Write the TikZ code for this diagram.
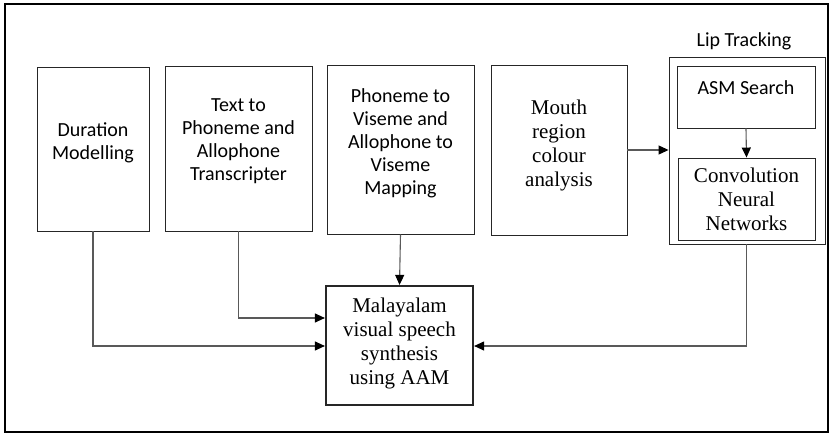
\documentclass[tikz,border=0pt]{standalone}
\usepackage{fontspec}
\setmainfont{Liberation Serif}
\newfontfamily\calib{Carlito}
\usetikzlibrary{arrows.meta}
\begin{document}
\begin{tikzpicture}[x=1pt,y=-1pt,
  box/.style={draw=black!85,line width=0.9pt,align=center,inner sep=0pt},
  sbox/.style={box,font=\calib\fontsize{20}{23}\selectfont},
  rbox/.style={box,font=\fontsize{21}{24}\selectfont},
  conn/.style={draw=black!65,line width=1.1pt,-{Triangle[length=10pt,width=9pt,color=black]}}]
\useasboundingbox (0,0) rectangle (831,436);
\draw[line width=2.2pt] (5,4) rectangle (828,432);
\node[sbox,minimum width=112pt,minimum height=164pt] (dur) at (93,149) {Duration\\Modelling\\[-8pt]};
\node[sbox,minimum width=147pt,minimum height=165pt] (txt) at (238.5,148.5) {Text to\\Phoneme and\\Allophone\\Transcripter\\[-6pt]};
\node[sbox,minimum width=147pt,minimum height=169pt] (pho) at (400.5,149.5) {Phoneme to\\Viseme and\\Allophone to\\Viseme\\Mapping\\[-7pt]};
\node[rbox,minimum width=136pt,minimum height=170pt] (mou) at (559,150) {Mouth\\region\\colour\\analysis\\[-11pt]};
\node[box,minimum width=156pt,minimum height=187pt] (lip) at (747,150.5) {};
\node[font=\calib\fontsize{20}{23}\selectfont,anchor=base] (liplab) at (744,47) {Lip Tracking};
\node[sbox,minimum width=138pt,minimum height=62pt] (asm) at (746,97) {ASM Search\\[-5pt]};
\node[rbox,minimum width=137pt,minimum height=82pt] (cnn) at (746.5,199) {Convolution\\Neural\\Networks};
\node[box,line width=2.2pt,minimum width=147pt,minimum height=119pt,font=\fontsize{21}{24}\selectfont] (main) at (399.5,345.5) {Malayalam\\visual speech\\synthesis\\using AAM\\[-15pt]};
\draw[conn] (pho.south) -- (main.north);
\draw[conn] (txt.south) |- (main.west |- 0,318);
\draw[conn] (dur.south) |- (main.west |- 0,346);
\draw[conn] (cnn.south |- lip.south) |- (main.east |- 0,346);
\draw[conn] (mou.east |- 0,150) -- (lip.west |- 0,150);
\draw[conn] (asm.south) -- (cnn.north);
\end{tikzpicture}
\end{document}
